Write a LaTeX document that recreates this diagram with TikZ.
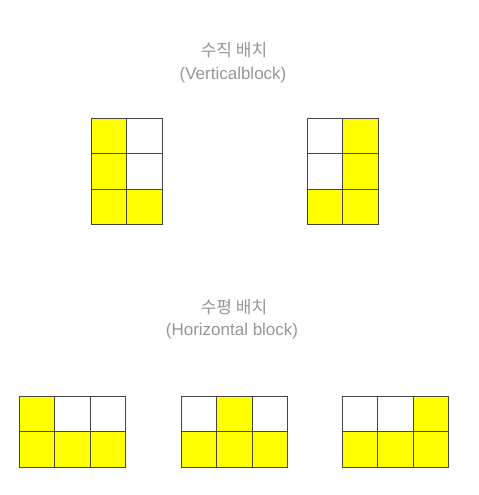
\documentclass[tikz,border=0pt]{standalone}
\usepackage{fontspec}
\setmainfont{Liberation Sans}
\newfontfamily\krfont{Noto Sans CJK KR}
\definecolor{txtgray}{RGB}{150,150,150}
\definecolor{edgegray}{RGB}{70,70,70}
\definecolor{cellyellow}{RGB}{255,255,0}
\begin{document}
\begin{tikzpicture}[x=1bp,y=-1bp,
  cell/.style={draw=edgegray, line width=0.8bp, minimum width=35.6bp, minimum height=35.6bp,
               inner sep=0pt, outer sep=0pt, anchor=north west},
  ycell/.style={cell, fill=cellyellow},
  wcell/.style={cell, fill=white},
  title/.style={text=txtgray, font=\fontsize{17bp}{20bp}\selectfont, inner sep=0pt}]
\useasboundingbox (0,0) rectangle (479,495);
% titles
\node[title] (tvk) at (234,50) {\krfont 수직 배치};
\node[title] (tve) at (233,75) {(Verticalblock)};
\node[title] (thk) at (234,307) {\krfont 수평 배치};
\node[title] (the) at (232,331) {(Horizontal block)};
% vertical left block (2 cols x 3 rows)
\node[ycell] (vl00) at (91,118) {};
\node[wcell] (vl10) at (126.6,118) {};
\node[ycell] (vl01) at (91,153.6) {};
\node[wcell] (vl11) at (126.6,153.6) {};
\node[ycell] (vl02) at (91,189.2) {};
\node[ycell] (vl12) at (126.6,189.2) {};
% vertical right block
\node[wcell] (vr00) at (307,118) {};
\node[ycell] (vr10) at (342.6,118) {};
\node[wcell] (vr01) at (307,153.6) {};
\node[ycell] (vr11) at (342.6,153.6) {};
\node[ycell] (vr02) at (307,189.2) {};
\node[ycell] (vr12) at (342.6,189.2) {};
% horizontal left block (3 cols x 2 rows)
\node[ycell] (hl00) at (19,396) {};
\node[wcell] (hl10) at (54.6,396) {};
\node[wcell] (hl20) at (90.2,396) {};
\node[ycell] (hl01) at (19,431.6) {};
\node[ycell] (hl11) at (54.6,431.6) {};
\node[ycell] (hl21) at (90.2,431.6) {};
% horizontal middle block
\node[wcell] (hm00) at (181,396) {};
\node[ycell] (hm10) at (216.6,396) {};
\node[wcell] (hm20) at (252.2,396) {};
\node[ycell] (hm01) at (181,431.6) {};
\node[ycell] (hm11) at (216.6,431.6) {};
\node[ycell] (hm21) at (252.2,431.6) {};
% horizontal right block
\node[wcell] (hr00) at (342,396) {};
\node[wcell] (hr10) at (377.6,396) {};
\node[ycell] (hr20) at (413.2,396) {};
\node[ycell] (hr01) at (342,431.6) {};
\node[ycell] (hr11) at (377.6,431.6) {};
\node[ycell] (hr21) at (413.2,431.6) {};
\end{tikzpicture}
\end{document}
